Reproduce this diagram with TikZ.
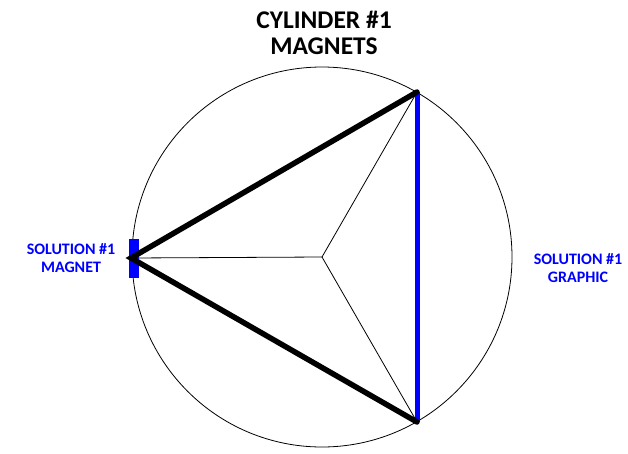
\documentclass[tikz,border=0pt]{standalone}
\usepackage{fontspec}
\setmainfont{Carlito}
\begin{document}
\begin{tikzpicture}[x=1pt,y=-1pt,
  thin line/.style={draw=black,line width=0.8pt},
  thick edge/.style={draw=black,line width=5.5pt,line cap=round,line join=miter},
  blue edge/.style={draw=blue,line width=5pt},
  title/.style={font=\bfseries\fontsize{25.5}{26}\selectfont,align=center},
  blabel/.style={font=\bfseries\fontsize{16}{18}\selectfont,text=blue,align=center}]
\useasboundingbox (0,0) rectangle (628,453);
\coordinate (c) at (322,257);
\coordinate (l) at (131,258);
\coordinate (t) at (417,92);
\coordinate (b) at (417,422);
\draw[thin line] (c) circle (190);
\draw[thin line] (c) -- (l);
\draw[thin line] (c) -- (t);
\draw[thin line] (c) -- (b);
\fill[blue] (129,239) rectangle (139,278);
\draw[blue edge] (t) -- (b);
\draw[thick edge] (t) -- (l) -- (b);
\node[title] (ttl) at (324,33) {CYLINDER \#1\\MAGNETS};
\node[blabel] (ml) at (71,258) {SOLUTION \#1\\MAGNET};
\node[blabel] (gl) at (578,268) {SOLUTION \#1\\GRAPHIC};
\end{tikzpicture}
\end{document}
